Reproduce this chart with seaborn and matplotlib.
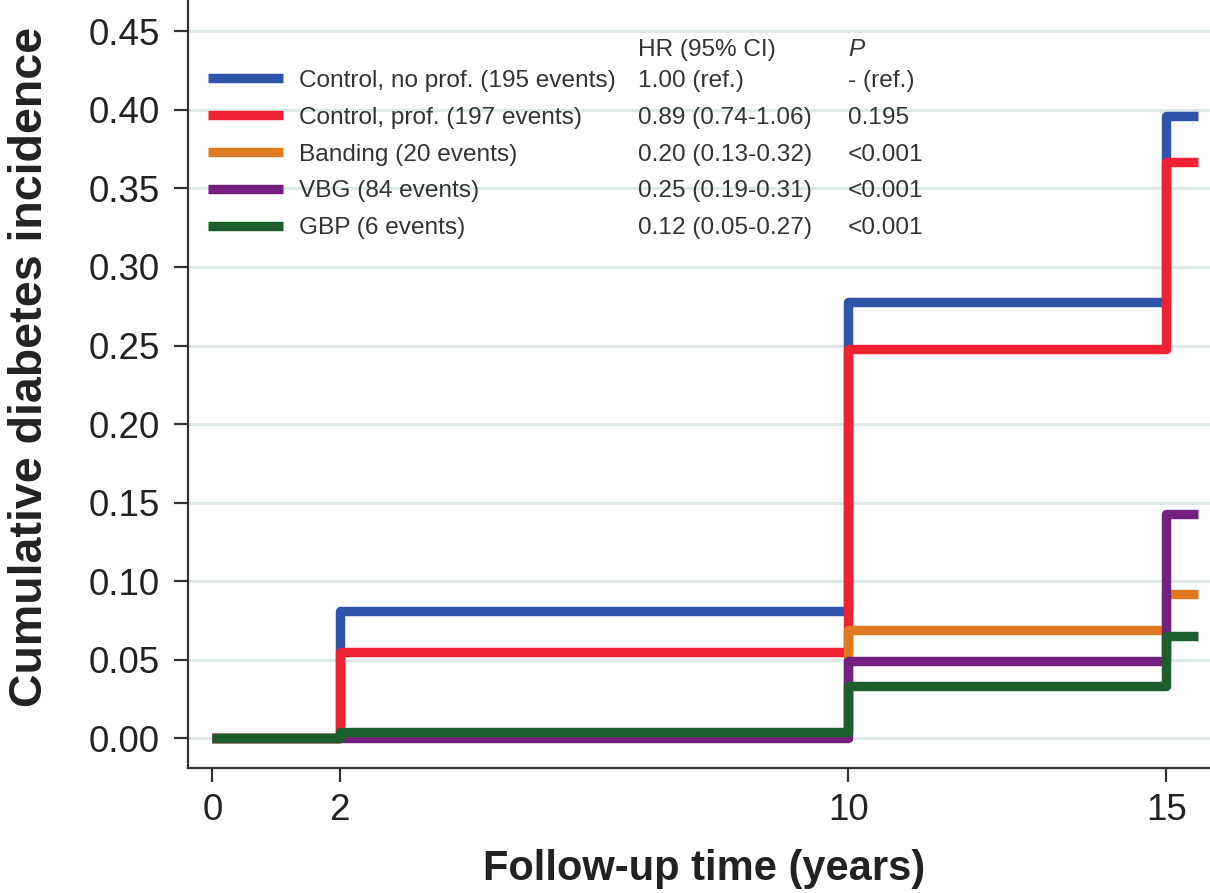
import matplotlib
matplotlib.use("Agg")
import matplotlib.pyplot as plt
import numpy as np
import pandas as pd
import seaborn as sns

# follow-up time points (years); last point just closes the final step
times = [0, 2, 10, 15, 15.5]

groups = ["Control, no prof. (195 events)", "Control, prof. (197 events)",
          "Banding (20 events)", "VBG (84 events)", "GBP (6 events)"]
incidence = {
    groups[0]: [0.0, 0.081, 0.278, 0.396, 0.396],
    groups[1]: [0.0, 0.055, 0.248, 0.367, 0.367],
    groups[2]: [0.0, 0.003, 0.069, 0.092, 0.092],
    groups[3]: [0.0, 0.000, 0.049, 0.143, 0.143],
    groups[4]: [0.0, 0.004, 0.033, 0.065, 0.065],
}
hr_ci = ["1.00 (ref.)", "0.89 (0.74-1.06)", "0.20 (0.13-0.32)",
         "0.25 (0.19-0.31)", "0.12 (0.05-0.27)"]
p_vals = ["- (ref.)", "0.195", "<0.001", "<0.001", "<0.001"]
colors = ["#2f56ac", "#ee2233", "#e07a20", "#74207f", "#1c5e2e"]

y_ticks = np.arange(0, 0.451, 0.05)
x_ticks = [0, 2, 10, 15]

df = pd.DataFrame([(g, t, v) for g in groups for t, v in zip(times, incidence[g])],
                  columns=["group", "time", "incidence"])

sns.set_style("ticks")
plt.rcParams["font.family"] = ["Liberation Sans", "DejaVu Sans"]
fs_leg = 17.6

fig = plt.figure(figsize=(12.1, 8.93), dpi=100)
ax = fig.add_axes([0.155, 0.14, 0.845, 0.86])

sns.lineplot(data=df, x="time", y="incidence", hue="group", hue_order=groups,
             palette=colors, drawstyle="steps-post", linewidth=6.8,
             estimator=None, legend=False, ax=ax)
data_lines = list(ax.get_lines())
for ln in data_lines:
    ln.set_solid_capstyle("butt")

ax.yaxis.grid(True, color="#dde9e9", lw=2.2)
ax.set_axisbelow(True)

ax.set_xlim(-0.39, 15.69)
ax.set_ylim(-0.019, 0.470)
ax.set_xticks(x_ticks)
ax.set_yticks(y_ticks)
ax.set_yticklabels([f"{v:.2f}" for v in y_ticks])
ax.tick_params(axis="both", labelsize=26.5, colors="#333333", labelcolor="#222222",
               width=1.6, length=10, direction="out")
ax.tick_params(axis="x", pad=8)
ax.tick_params(axis="y", pad=10)
for side in ["top", "right"]:
    ax.spines[side].set_visible(False)
for side in ["left", "bottom"]:
    ax.spines[side].set_color("#333333")
    ax.spines[side].set_linewidth(1.6)

ax.set_ylabel("Cumulative diabetes incidence", fontsize=33.5, fontweight="bold", color="#222222")
ax.set_xlabel("Follow-up time (years)", fontsize=30, fontweight="bold", color="#222222")
ax.yaxis.set_label_coords(-0.133, 0.522)
ax.xaxis.set_label_coords(0.505, -0.105)

leg = ax.legend(handles=data_lines, labels=groups, loc="upper left",
                bbox_to_anchor=(0.0196, 0.909), frameon=False, fontsize=fs_leg,
                handlelength=3.1, handletextpad=0.62, labelspacing=0.6,
                borderpad=0, borderaxespad=0)
for t in leg.get_texts():
    t.set_color("#333333")

# HR and P columns aligned with legend rows
fig.canvas.draw()
inv = ax.transAxes.inverted()
x_hr = inv.transform((638, 0))[0]
x_p = inv.transform((848, 0))[0]
row_y = []
for t in leg.get_texts():
    bb = t.get_window_extent()
    row_y.append(inv.transform((0, (bb.y0 + bb.y1) / 2))[1])
step = row_y[0] - row_y[1]
ax.text(x_hr, row_y[0] + step * 0.85, "HR (95% CI)", transform=ax.transAxes,
        fontsize=fs_leg, va="center", color="#333333")
ax.text(x_p, row_y[0] + step * 0.85, "P", transform=ax.transAxes,
        fontsize=fs_leg, va="center", style="italic", color="#333333")
for y, hr, p in zip(row_y, hr_ci, p_vals):
    ax.text(x_hr, y, hr, transform=ax.transAxes, fontsize=fs_leg, va="center", color="#333333")
    ax.text(x_p, y, p, transform=ax.transAxes, fontsize=fs_leg, va="center", color="#333333")

fig.savefig("out.png", dpi=100)
